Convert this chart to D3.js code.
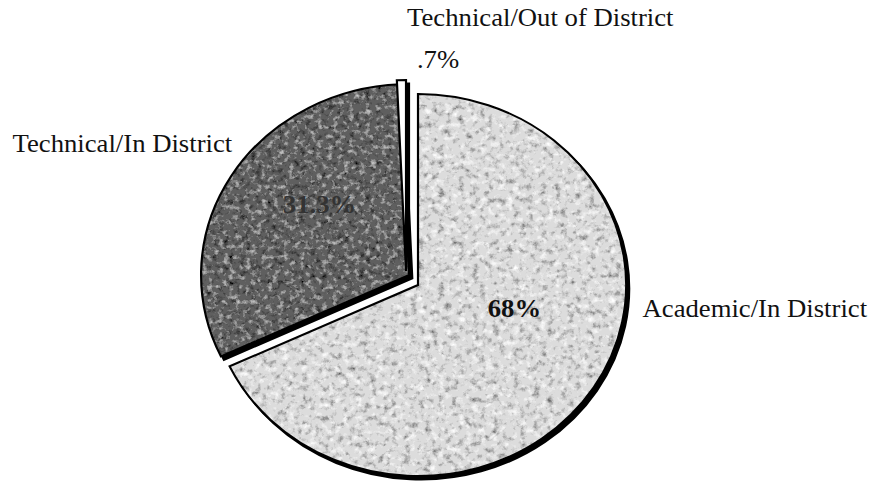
<!DOCTYPE html>
<html>
<head>
<meta charset="utf-8">
<script src="https://cdn.jsdelivr.net/npm/d3@7"></script>
<style>
  body { margin: 0; background: #fff; }
  svg { display: block; }
  text { font-family: "Liberation Serif", "Times New Roman", serif; font-size: 24.5px; fill: #111; }
</style>
</head>
<body>
<svg id="pieChart" width="871" height="481"></svg>
<script>
// DATA
const categories = ["Academic/In District", "Technical/In District", "Technical/Out of District"];
const shares = [68, 31.3, 0.7];
const shareLabels = ["68%", "31.3%", ".7%"];

// SETUP: the scanned original is a bit wider than tall, so stretch x
const stretch = 1.09,
    width = 871, height = 481,
    cx = 418 / stretch, cy = 285,
    radius = 191;

// explode offsets and label spots (relative to pie centre, unstretched units)
const explode = [[0, 0], [-8, -10], [-11, -14]];
const catLabelPos = [[206, 32], [-372, -133], [-10, -259]];
const pctLabelPos = [[64, 32], [-124, -72], [-1, -217]];
const fills = ["#dcdcdc", "#5f5f5f", "#ffffff"];

const svg = d3.select("#pieChart");

// texture filters (speckled scan look)
const defs = svg.append("defs");
function grainFilter(id, darkA, lightA, seed, freq) {
    const f = defs.append("filter").attr("id", id)
        .attr("x", "-5%").attr("y", "-5%").attr("width", "110%").attr("height", "110%");
    f.append("feTurbulence").attr("type", "fractalNoise")
        .attr("baseFrequency", freq).attr("numOctaves", 4).attr("seed", seed).attr("result", "noise");
    f.append("feColorMatrix").attr("in", "noise").attr("type", "matrix")
        .attr("values", `0 0 0 0 0  0 0 0 0 0  0 0 0 0 0  ${darkA} 0 0 0 ${-darkA * 0.5}`)
        .attr("result", "darkNoise");
    f.append("feColorMatrix").attr("in", "noise").attr("type", "matrix")
        .attr("values", `0 0 0 0 1  0 0 0 0 1  0 0 0 0 1  0 ${lightA} 0 0 ${-lightA * 0.52}`)
        .attr("result", "lightNoise");
    f.append("feComposite").attr("in", "darkNoise").attr("in2", "SourceGraphic")
        .attr("operator", "in").attr("result", "darkIn");
    f.append("feComposite").attr("in", "lightNoise").attr("in2", "SourceGraphic")
        .attr("operator", "in").attr("result", "lightIn");
    const m = f.append("feMerge");
    m.append("feMergeNode").attr("in", "SourceGraphic");
    m.append("feMergeNode").attr("in", "darkIn");
    m.append("feMergeNode").attr("in", "lightIn");
}
grainFilter("grainLight", 2.0, 2.6, 4, 0.16);
grainFilter("grainDark", 2.6, 1.3, 9, 0.2);

const g = svg.append("g")
    .attr("transform", `scale(${stretch},1)`);

// PIE LAYOUT
const pie = d3.pie().sort(null).value(d => d);
const arcs = pie(shares);
const arc = d3.arc().innerRadius(0).outerRadius(radius);

const slices = g.selectAll("g.slice")
    .data(arcs)
    .enter()
    .append("g")
    .attr("class", "slice")
    .attr("transform", (d, i) => `translate(${cx + explode[i][0]},${cy + explode[i][1]})`);

// drop shadow
slices.append("path")
    .attr("d", arc)
    .attr("transform", `translate(${3 / stretch},3.5)`)
    .attr("fill", "#000")
    .attr("stroke", "#000")
    .attr("stroke-width", 2);

// textured fill
slices.append("path")
    .attr("d", arc)
    .attr("fill", (d, i) => fills[i])
    .attr("filter", (d, i) => i === 0 ? "url(#grainLight)" : (i === 1 ? "url(#grainDark)" : null));

// outline
slices.append("path")
    .attr("d", arc)
    .attr("fill", "none")
    .attr("stroke", "#000")
    .attr("stroke-width", 2)
    .attr("stroke-linejoin", "miter");

// LABELS
g.selectAll("text.cat")
    .data(categories)
    .enter()
    .append("text")
    .attr("class", "cat")
    .attr("x", (d, i) => cx + catLabelPos[i][0])
    .attr("y", (d, i) => cy + catLabelPos[i][1])
    .text(d => d);

g.selectAll("text.pct")
    .data(shareLabels)
    .enter()
    .append("text")
    .attr("class", "pct")
    .attr("x", (d, i) => cx + pctLabelPos[i][0])
    .attr("y", (d, i) => cy + pctLabelPos[i][1])
    .style("font-weight", (d, i) => i < 2 ? "bold" : "normal")
    .style("fill", (d, i) => i === 1 ? "#333" : "#111")
    .text(d => d);
</script>
</body>
</html>
